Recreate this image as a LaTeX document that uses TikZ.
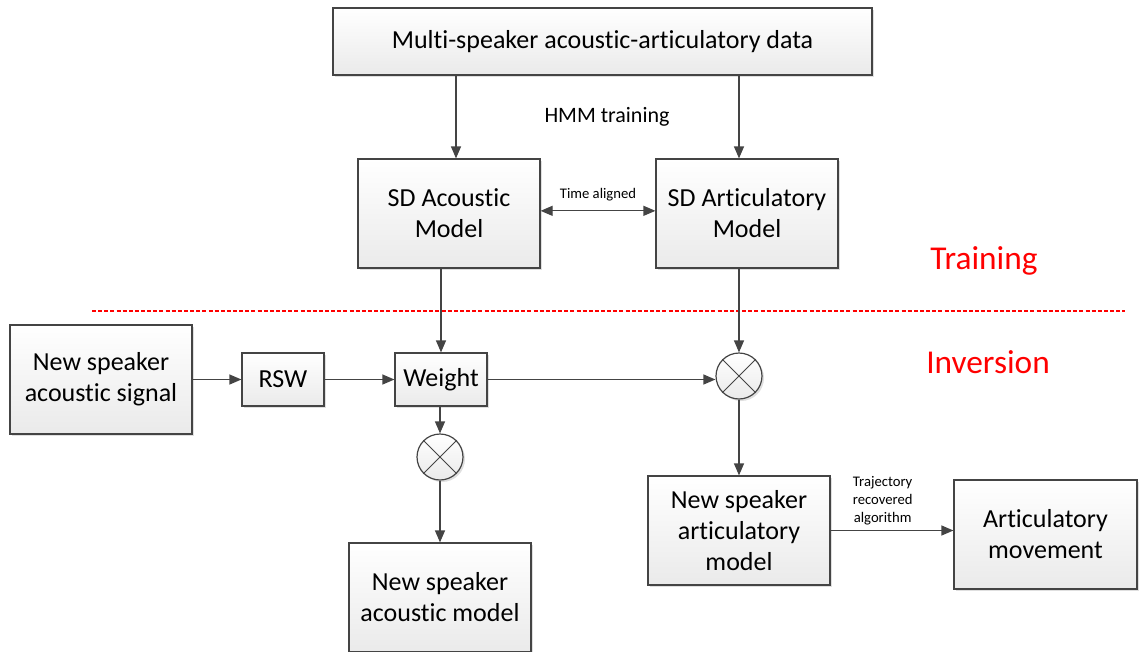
\documentclass[tikz,border=0pt]{standalone}
\usepackage{fontspec}
\setmainfont{Carlito}[Ligatures=NoCommon]
\usetikzlibrary{arrows.meta, shadows}
\definecolor{edge}{RGB}{68, 68, 68}
\definecolor{boxtop}{RGB}{255, 255, 255}
\definecolor{boxbot}{RGB}{234, 234, 234}
\definecolor{phase}{RGB}{255, 0, 0}

\begin{document}
\begin{tikzpicture}[x=0.75pt, y=-0.75pt,
  block/.style={draw=edge, line width=0.9pt, top color=boxtop, bottom color=boxbot,
                drop shadow={opacity=0.25, shadow xshift=1.5pt, shadow yshift=-1.5pt},
                align=center, inner sep=0pt, font=\fontsize{19.5}{23.3}\selectfont},
  bigbox/.style={block, minimum width=136.5pt, minimum height=81.75pt},
  mult/.style={draw=edge, line width=0.9pt, circle, minimum size=34.5pt, inner sep=0pt,
               top color=boxtop, bottom color=boxbot,
               drop shadow={opacity=0.25, shadow xshift=1.5pt, shadow yshift=-1.5pt}},
  arr/.style={draw=edge, line width=0.9pt, -{Triangle[length=9pt, width=7.5pt]}},
  small/.style={font=\fontsize{11}{13.5}\selectfont, align=center, inner sep=0pt},
  phasetext/.style={text=phase, font=\fontsize{25}{29}\selectfont}]

  \useasboundingbox (0, 0) rectangle (1139, 651);

  % training part
  \node[block, minimum width=404.25pt, minimum height=50.25pt] (multi) at (602.5, 41.5)
    {Multi-speaker acoustic-articulatory data};
  \node[bigbox] (sdac) at (449, 213.5) {SD Acoustic\\Model};
  \node[bigbox] (sdar) at (747, 213.5) {SD Articulatory\\Model};
  \node[font=\fontsize{16.5}{19}\selectfont] (hmm) at (607, 117) {HMM training};

  % inversion part
  \node[bigbox] (nsig) at (101, 379.5) {New speaker\\acoustic signal};
  \node[block, minimum width=61.5pt, minimum height=39.75pt] (rsw) at (283, 379.5) {RSW};
  \node[block, minimum width=69pt, minimum height=39.75pt] (weight) at (441, 379.5) {Weight};
  \node[mult] (mulac) at (440, 457) {};
  \node[mult] (mular) at (739, 376) {};
  \node[bigbox] (nacm) at (440, 597.5) {New speaker\\acoustic model};
  \node[bigbox] (nartm) at (739, 530.5) {New speaker\\articulatory\\model};
  \node[block, minimum width=137.25pt, minimum height=81.75pt] (move) at (1045.5, 534.5)
    {Articulatory\\movement};

  \foreach \m in {mulac, mular} {
    \draw[edge, line width=0.7pt] (\m.north east) -- (\m.south west);
    \draw[edge, line width=0.7pt] (\m.north west) -- (\m.south east);
  }

  % phase labels
  \node[phasetext] (train) at (984, 261) {Training};
  \node[phasetext] (inv) at (988, 362) {Inversion};
  \coordinate (sepl) at (92, 311);
  \coordinate (sepr) at (1125, 311);
  \draw[phase, line width=2.2pt, dash pattern=on 3pt off 1.6pt] (sepl) -- (sepr);

  % connectors
  \draw[arr] ([xshift=5.25pt]sdac.north |- multi.south) -- ([xshift=5.25pt]sdac.north);
  \draw[arr] (mular.north |- multi.south) -- (mular.north |- sdar.north);
  \draw[arr, {Triangle[length=9pt, width=7.5pt]}-{Triangle[length=9pt, width=7.5pt]}]
    ([yshift=2pt]sdac.east) -- ([yshift=2pt]sdar.west)
    node[small, midway, above=7pt] (talign) {Time aligned};
  \draw[arr] (weight.north |- sdac.south) -- (weight.north);
  \draw[arr] (mular.north |- sdar.south) -- (mular.north);
  \draw[arr] (nsig) -- (rsw);
  \draw[arr] (rsw) -- (weight);
  \draw[arr] (weight.east) -- (weight.east -| mular.west);
  \draw[arr] (mulac.north |- weight.south) -- (mulac.north);
  \draw[arr] (mulac.south) -- (mulac.south |- nacm.north);
  \draw[arr] (mular.south) -- (nartm.north);
  \draw[arr] (nartm.east) -- (nartm.east -| move.west)
    node[small, midway, above=4pt, xshift=-7pt] (traj) {Trajectory\\recovered\\algorithm};

\end{tikzpicture}
\end{document}
